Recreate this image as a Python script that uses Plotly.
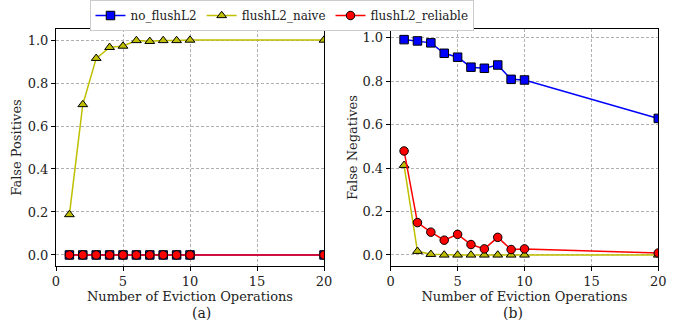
import plotly.graph_objects as go

x_vals = [1, 2, 3, 4, 5, 6, 7, 8, 9, 10, 20]

# (a) False Positives
fp_no_flush = [0, 0, 0, 0, 0, 0, 0, 0, 0, 0, 0]
fp_naive = [0.188, 0.70, 0.915, 0.966, 0.972, 0.998, 0.994, 0.998, 0.998, 1.0, 1.0]
fp_reliable = [0, 0, 0, 0, 0, 0, 0, 0, 0, 0, 0]

# (b) False Negatives
fn_no_flush = [0.992, 0.986, 0.977, 0.929, 0.911, 0.865, 0.860, 0.875, 0.809, 0.806, 0.629]
fn_naive = [0.413, 0.017, 0.003, 0.0, 0.0, 0.0, 0.0, 0.0, 0.0, 0.0, 0.0]
fn_reliable = [0.479, 0.149, 0.105, 0.068, 0.095, 0.048, 0.028, 0.081, 0.025, 0.028, 0.009]

series_names = ["no_flushL2", "flushL2_naive", "flushL2_reliable"]
colors = ["#0000ff", "#bfbf00", "#ff0000"]
symbols = ["square", "triangle-up", "circle"]

W, H = 689, 325
FONT = "DejaVu Serif"
FS = 13

fig = go.Figure()

panels = [
    ("x", "y", [fp_no_flush, fp_naive, fp_reliable]),
    ("x2", "y2", [fn_no_flush, fn_naive, fn_reliable]),
]
for pi, (xa, ya, data) in enumerate(panels):
    for si, ys in enumerate(data):
        fig.add_trace(go.Scatter(
            x=x_vals, y=ys, xaxis=xa, yaxis=ya,
            mode="lines+markers", name=series_names[si],
            legendgroup=series_names[si], showlegend=(pi == 0),
            line=dict(color=colors[si], width=1.5),
            marker=dict(symbol=symbols[si], color=colors[si], size=8.5,
                        line=dict(color="black", width=1)),
        ))

axis_common = dict(
    showline=True, mirror=True, linecolor="black", linewidth=1,
    ticks="outside", ticklen=4, tickwidth=1, tickcolor="black",
    showgrid=True, gridcolor="#b0b0b0", griddash="3px,2px", gridwidth=0.8,
    zeroline=False, automargin=False,
    tickfont=dict(family=FONT, size=FS, color="#222"),
)

xd1 = [56 / W, 324 / W]
xd2 = [390.7 / W, 658.3 / W]
yd = [1 - 265.7 / H, 1 - 29.3 / H]

fig.update_layout(
    width=W, height=H,
    margin=dict(l=0, r=0, t=0, b=0, pad=0),
    paper_bgcolor="white", plot_bgcolor="white",
    font=dict(family=FONT, size=FS, color="#222"),
    xaxis=dict(domain=xd1, range=[0, 20], tickvals=[0, 5, 10, 15, 20], anchor="y",
               title=dict(text="Number of Eviction Operations", standoff=3,
                          font=dict(family=FONT, size=FS)), **axis_common),
    yaxis=dict(domain=yd, range=[-0.05, 1.05], tickvals=[0, 0.2, 0.4, 0.6, 0.8, 1.0],
               tickformat=".1f", anchor="x",
               title=dict(text="False Positives", standoff=3,
                          font=dict(family=FONT, size=FS)), **axis_common),
    xaxis2=dict(domain=xd2, range=[0, 20], tickvals=[0, 5, 10, 15, 20], anchor="y2",
                title=dict(text="Number of Eviction Operations", standoff=3,
                           font=dict(family=FONT, size=FS)), **axis_common),
    yaxis2=dict(domain=yd, range=[-0.0495, 1.0395], tickvals=[0, 0.2, 0.4, 0.6, 0.8, 1.0],
                tickformat=".1f", anchor="x2",
                title=dict(text="False Negatives", standoff=1,
                           font=dict(family=FONT, size=FS)), **axis_common),
    legend=dict(orientation="h", x=0.41, xanchor="center", y=1.0, yanchor="top",
                bordercolor="#cccccc", borderwidth=1, bgcolor="white",
                font=dict(family=FONT, size=12, color="#222"),
                itemwidth=30, tracegroupgap=0),
    annotations=[
        dict(text="(a)", x=(xd1[0] + xd1[1]) / 2, y=0, xref="paper", yref="paper",
             yanchor="bottom", yshift=2,
             showarrow=False, font=dict(family=FONT, size=FS + 1, color="#222")),
        dict(text="(b)", x=(xd2[0] + xd2[1]) / 2, y=0, xref="paper", yref="paper",
             yanchor="bottom", yshift=2,
             showarrow=False, font=dict(family=FONT, size=FS + 1, color="#222")),
    ],
)

fig.write_html("out.html", config={"displayModeBar": False},
               post_script="document.body.style.margin='0';document.body.style.overflow='hidden';")
